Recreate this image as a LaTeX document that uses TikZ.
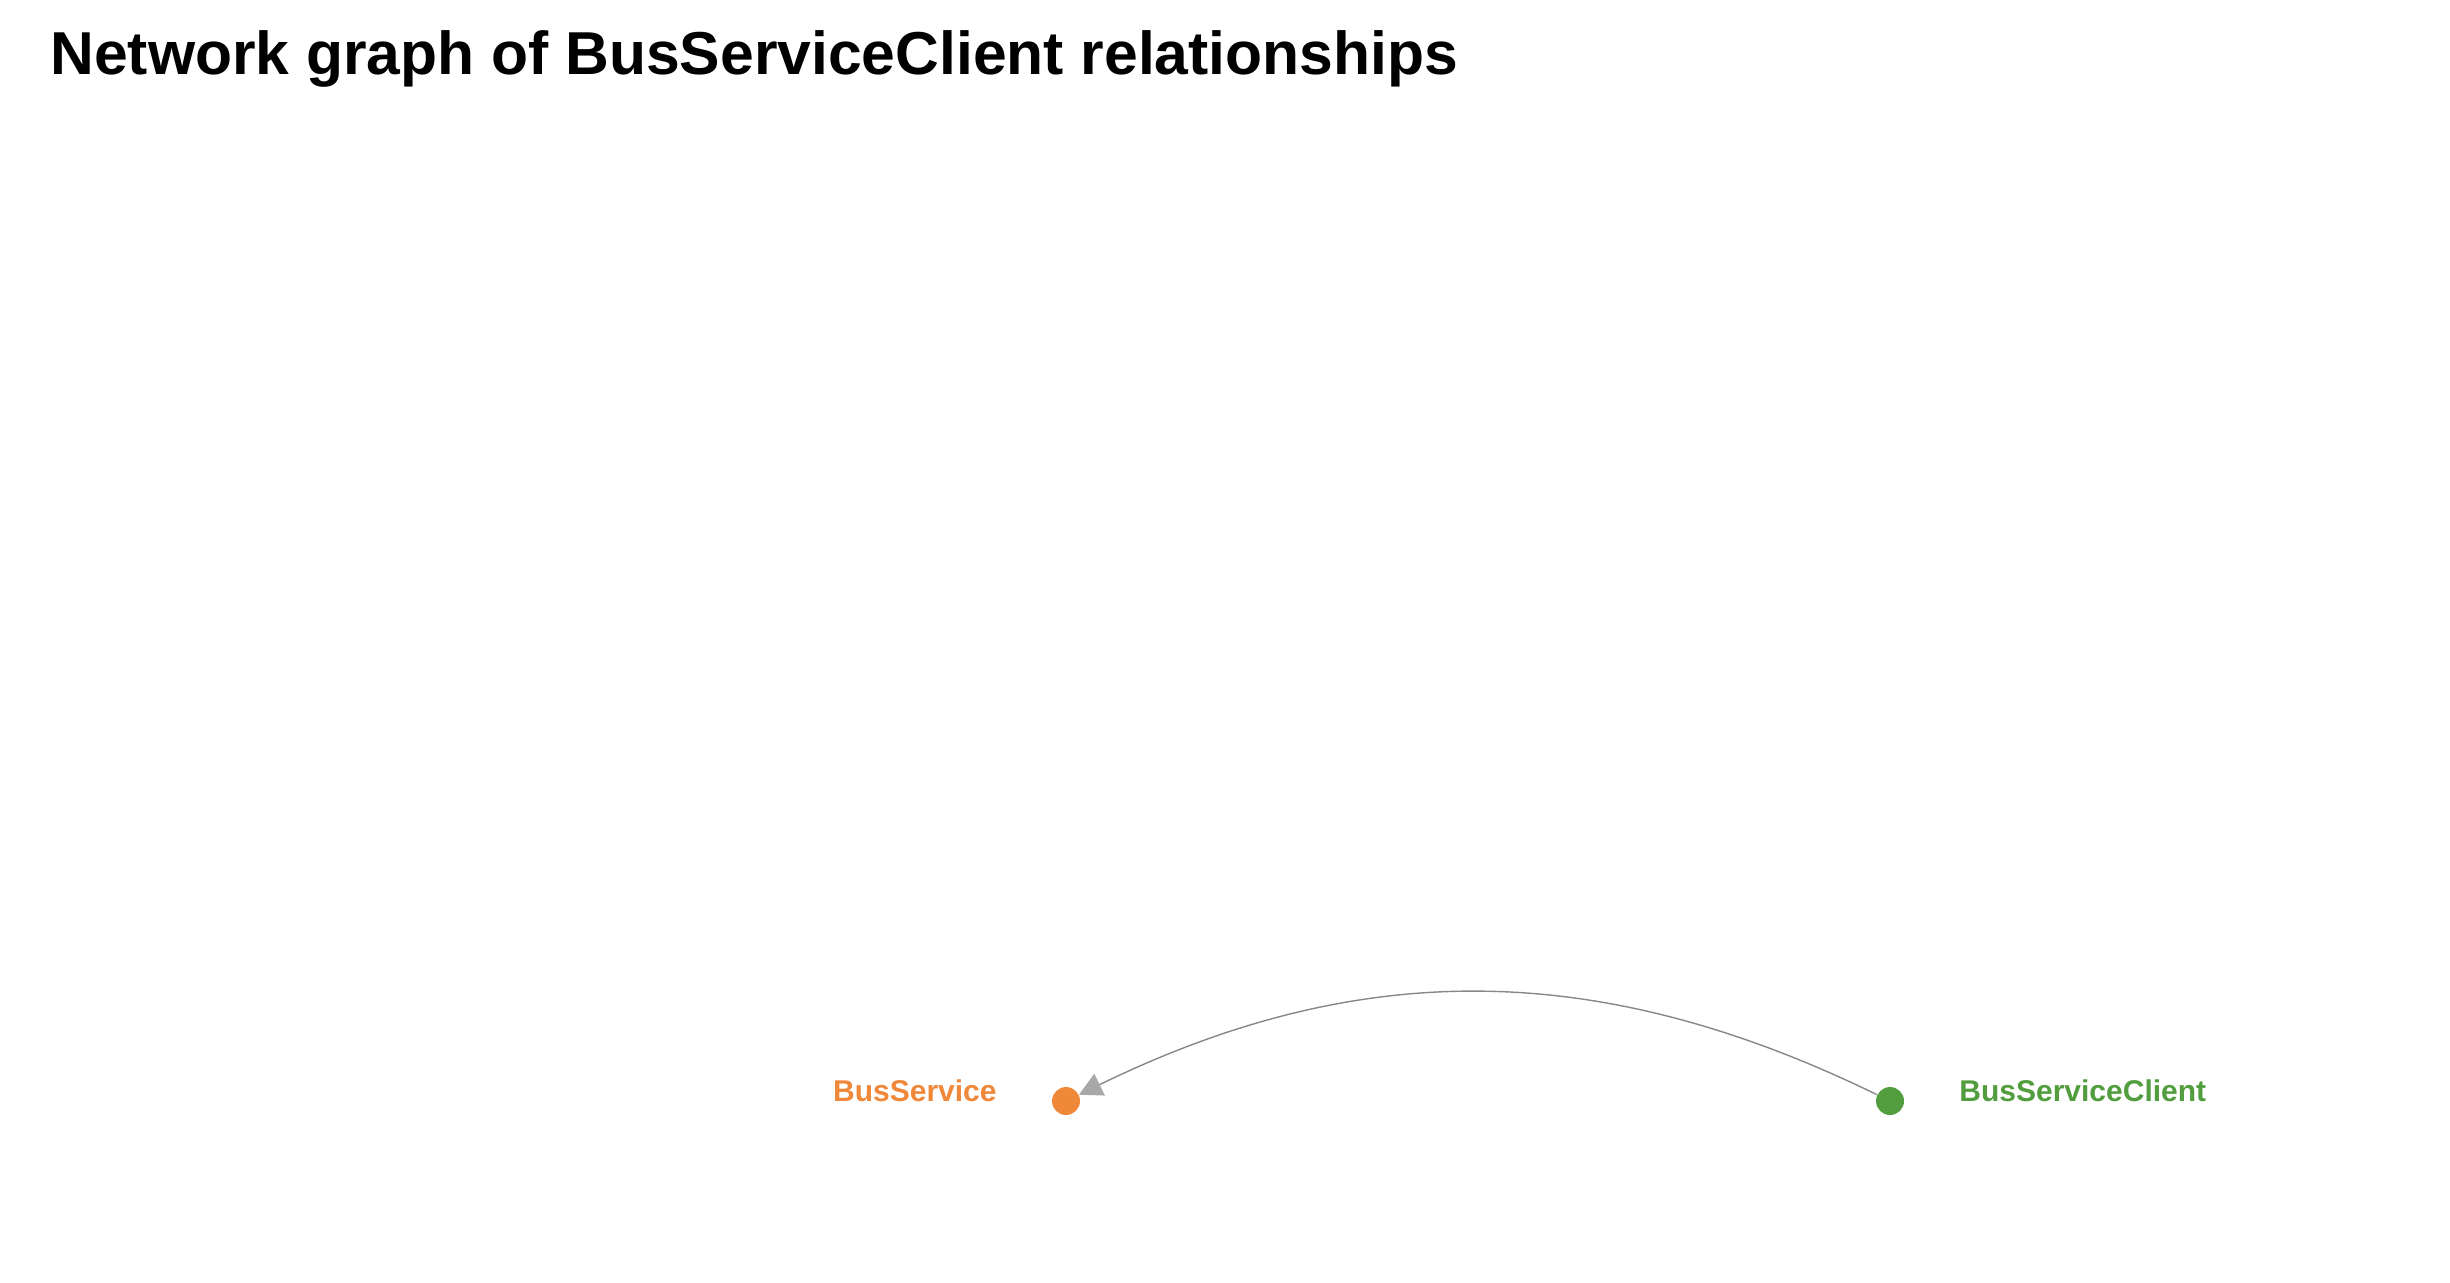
\documentclass[tikz,border=0pt]{standalone}
\usepackage{fontspec}
\setmainfont{Liberation Sans}
\usetikzlibrary{arrows.meta,positioning}
\definecolor{svcorange}{HTML}{F0883A}
\definecolor{clientgreen}{HTML}{529E3E}
\definecolor{edgegray}{HTML}{888888}
\definecolor{tipgray}{HTML}{A8A8A8}
\def\largeur{2450}
\def\hauteur{1282}

\begin{document}
\begin{tikzpicture}[x=0.5pt, y=-0.5pt,
    dot/.style={circle, minimum size=14pt, inner sep=0pt},
    lbl/.style={inner sep=0pt, font=\bfseries\fontsize{15}{18}\selectfont},
    rel/.style={draw=edgegray, line width=0.7pt, -{Triangle[length=11.5pt, width=12pt, color=tipgray, fill=tipgray]}}]
    \useasboundingbox[fill=white] (0,0) rectangle (\largeur,\hauteur);
    \node[anchor=base west, inner sep=0pt, font=\bfseries\fontsize{30.3}{36}\selectfont] (title) at (50,74) {Network graph of BusServiceClient relationships};
    \node[dot, fill=svcorange] (busservice) at (1066,1101) {};
    \node[dot, fill=clientgreen] (client) at (1890,1101) {};
    \node[lbl, text=svcorange, anchor=base east] (busservice-label) at ([xshift=-34.5pt]busservice.center) {BusService};
    \node[lbl, text=clientgreen, anchor=base west] (client-label) at ([xshift=34.5pt]client.center) {BusServiceClient};
    \draw[rel] (client) to[bend right=26] (busservice);
\end{tikzpicture}
\end{document}
